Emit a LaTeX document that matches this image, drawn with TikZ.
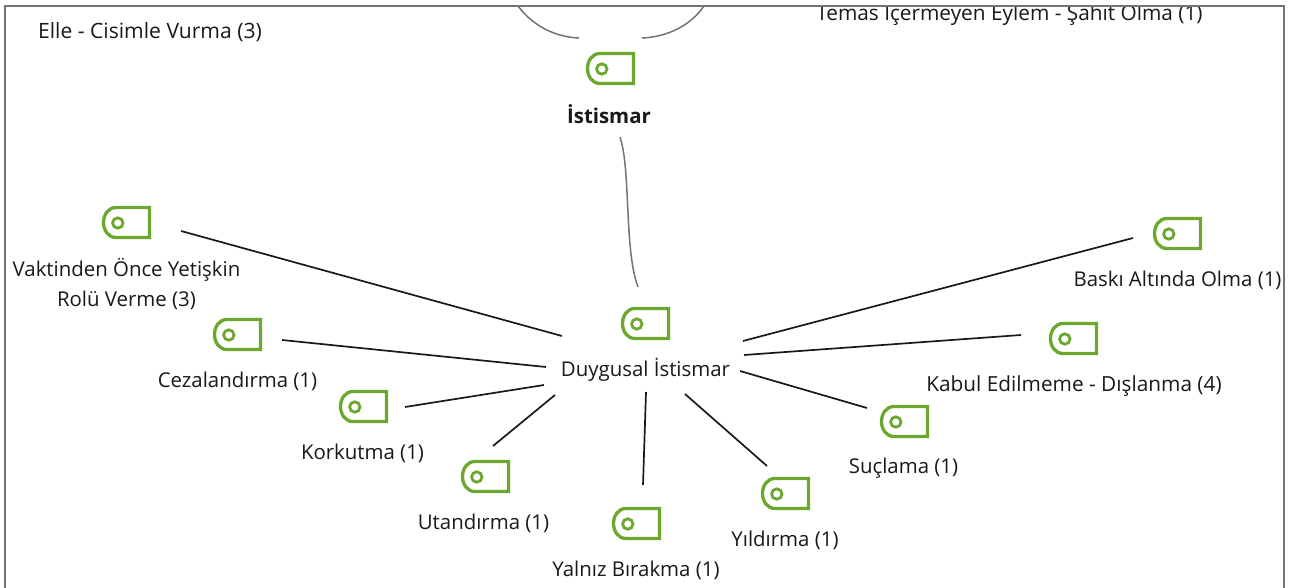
\documentclass[tikz,border=0pt]{standalone}
\usepackage{fontspec}
\setmainfont{Open Sans}
\tikzset{
  x=1pt,y=-1pt,
  lbl/.style={inner sep=0pt,font=\fontsize{20.4}{30}\selectfont,text=black!90,align=center,anchor=center},
  lblw/.style={lbl,font=\fontsize{20.8}{30}\selectfont},
  link/.style={draw=black!90,line width=1.7pt},
  curve/.style={draw=black!55,line width=1.5pt},
  tagicon/.pic={
    \draw[draw=tagGreen,line width=3.3pt,line join=miter]
      (47.5,1.5) -- (14,1.5) .. controls (6,1.5) and (1.5,9) .. (1.5,16.5)
      .. controls (1.5,24) and (6,31.5) .. (14,31.5) -- (47.5,31.5) -- cycle;
    \draw[draw=tagGreen,line width=2.8pt] (15.8,17) circle (5.2);
  }
}
\definecolor{tagGreen}{HTML}{6CA82E}
\begin{document}
\begin{tikzpicture}
\useasboundingbox (0,0) rectangle (1290,588);
\fill[white] (0,0) rectangle (1290,588);
% frame
\begin{scope}
\clip (5.5,6) rectangle (1284,588);
\node[lblw] (temas) at (1009.5,14) {Temas İçermeyen Eylem - Şahit Olma (1)};
\end{scope}
\coordinate (fa) at (5,588);
\coordinate (fb) at (5,6);
\coordinate (fc) at (1284,6);
\coordinate (fd) at (1284,588);
\draw[draw=black!55,line width=1.8pt] (fa) -- (fb) -- (fc) -- (fd);
% icons
\pic (iIst) at (586,52) {tagicon};
\pic (iVak) at (102,206) {tagicon};
\pic (iCez) at (213,318) {tagicon};
\pic (iKor) at (339,390) {tagicon};
\pic (iUta) at (461,460) {tagicon};
\pic (iYal) at (612,507) {tagicon};
\pic (iYil) at (761,477) {tagicon};
\pic (iSuc) at (880,405) {tagicon};
\pic (iKab) at (1049,322) {tagicon};
\pic (iBas) at (1153,217) {tagicon};
\pic (iDuy) at (621,307) {tagicon};
% labels
\node[lbl,font=\fontsize{21.1}{30}\selectfont] (elle) at (150,32) {Elle - Cisimle Vurma (3)};
\node[lbl,font=\fontsize{20.4}{30}\selectfont\bfseries] (ist) at (609,114.5) {İstismar};
\node[lbl] (vak) at (126.5,284) {Vaktinden Önce Yetişkin\\Rolü Verme (3)};
\node[lbl] (cez) at (237.5,381) {Cezalandırma (1)};
\node[lbl] (kor) at (362.5,453) {Korkutma (1)};
\node[lbl] (uta) at (483.5,523) {Utandırma (1)};
\node[lbl] (yal) at (636,570) {Yalnız Bırakma (1)};
\node[lbl] (yil) at (785,540) {Yıldırma (1)};
\node[lbl] (suc) at (903.5,468) {Suçlama (1)};
\node[lblw] (kab) at (1074,386) {Kabul Edilmeme - Dışlanma (4)};
\node[lbl] (bas) at (1177.5,280) {Baskı Altında Olma (1)};
\node[lbl] (duy) at (645.5,370) {Duygusal İstismar};
% connector ends
\foreach \n/\xa/\ya/\xb/\yb in {
  Vak/181/231/562/336, Cez/282/340/546/367, Kor/405/407/544/385,
  Uta/493/446/555/395, Yal/643/485/646/392, Yil/767/466/685/394,
  Suc/867/408/740/371, Kab/1021/335/744/355, Bas/1133/238/743/341}{
  \coordinate (e\n) at (\xa,\ya);
  \coordinate (h\n) at (\xb,\yb);
  \draw[link] (e\n) -- (h\n);
}
\coordinate (cA) at (620,137);
\coordinate (cB) at (638,287);
\draw[curve] (cA) .. controls (631,170) and (624,250) .. (cB);
\coordinate (tA) at (518,6);
\coordinate (tB) at (579,38);
\coordinate (tC) at (642,38);
\coordinate (tD) at (704,6);
\draw[curve] (tA) .. controls (533,26) and (555,37) .. (tB);
\draw[curve] (tC) .. controls (668,37) and (691,25) .. (tD);
\end{tikzpicture}
\end{document}
